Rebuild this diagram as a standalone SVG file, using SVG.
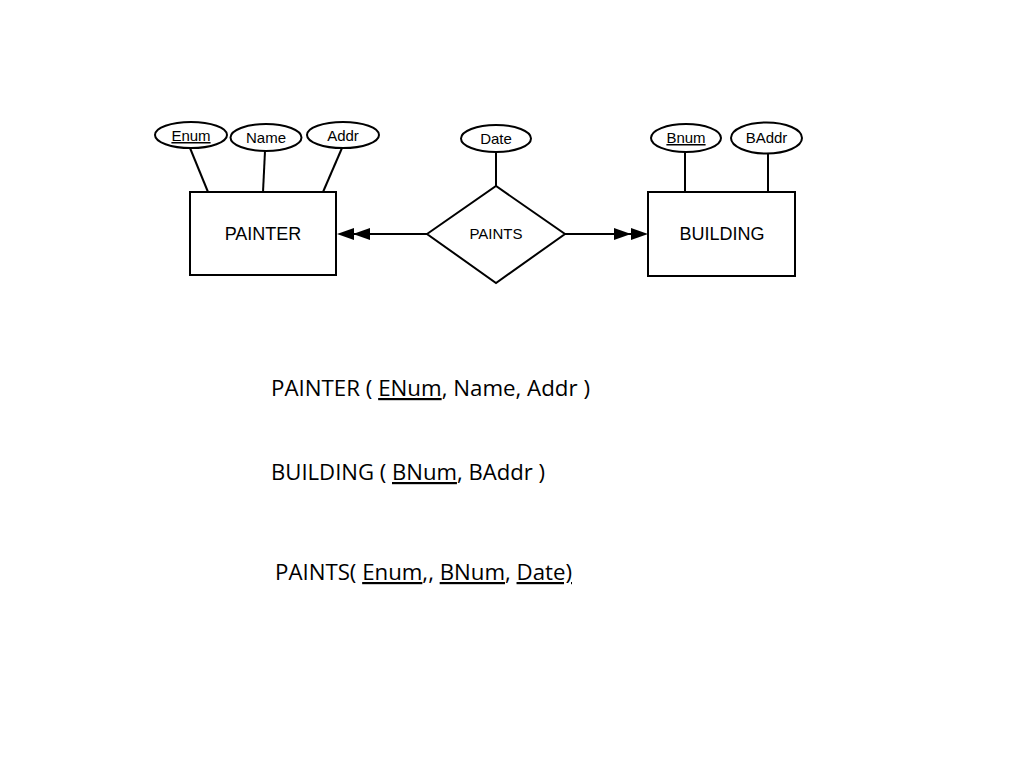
<svg xmlns="http://www.w3.org/2000/svg" xmlns:xlink="http://www.w3.org/1999/xlink" width="1024" height="768" viewBox="0 0 1024 768">
<style>
.shape{fill:#fff;stroke:#000;stroke-width:2}
.conn{fill:none;stroke:#000;stroke-width:2}
.lbl{font-family:"Liberation Sans",Arial,sans-serif;fill:#000;text-anchor:middle}
.attr{font-size:15px}
.ent{font-size:18px}
.rel{font-size:15px}
.u{text-decoration:underline}
.schema{font-family:"Open Sans","Noto Sans",sans-serif;font-size:22px;fill:#000}
</style>
<defs>
<path id="ah" d="M0,0 L17,-6 L17,6 Z" fill="#000"/>
</defs>
<rect width="1024" height="768" fill="#fff"/>
<g id="connectors">
<line class="conn" x1="190" y1="148" x2="208" y2="192"/>
<line class="conn" x1="265" y1="151" x2="263" y2="192"/>
<line class="conn" x1="342" y1="148" x2="323" y2="192"/>
<line class="conn" x1="496" y1="152" x2="496" y2="186"/>
<line class="conn" x1="685" y1="152" x2="685" y2="192"/>
<line class="conn" x1="768" y1="154" x2="768" y2="192"/>
<line class="conn" x1="427" y1="234" x2="345" y2="234"/>
<use xlink:href="#ah" transform="translate(337,234)"/>
<use xlink:href="#ah" transform="translate(353,234)"/>
<line class="conn" x1="565" y1="234" x2="640" y2="234"/>
<use xlink:href="#ah" transform="translate(648,234) rotate(180)"/>
<use xlink:href="#ah" transform="translate(631,234) rotate(180)"/>
</g>
<g id="attr-enum">
<ellipse class="shape" cx="191" cy="135" rx="36" ry="13"/>
<text class="lbl attr u" x="191" y="141">Enum</text>
</g>
<g id="attr-name">
<ellipse class="shape" cx="266" cy="137.5" rx="35.5" ry="13.5"/>
<text class="lbl attr" x="266" y="143">Name</text>
</g>
<g id="attr-addr">
<ellipse class="shape" cx="343" cy="135" rx="36" ry="13"/>
<text class="lbl attr" x="343" y="141">Addr</text>
</g>
<g id="attr-date">
<ellipse class="shape" cx="496" cy="138.5" rx="35" ry="13.5"/>
<text class="lbl attr" x="496" y="144">Date</text>
</g>
<g id="attr-bnum">
<ellipse class="shape" cx="686" cy="138" rx="35" ry="14"/>
<text class="lbl attr u" x="686" y="143">Bnum</text>
</g>
<g id="attr-baddr">
<ellipse class="shape" cx="766.5" cy="138" rx="35.5" ry="15.5"/>
<text class="lbl attr" x="766.5" y="143">BAddr</text>
</g>
<g id="painter">
<rect class="shape" x="190" y="192" width="146" height="83"/>
<text class="lbl ent" x="263" y="240">PAINTER</text>
</g>
<g id="paints">
<polygon class="shape" points="427,234 496,186 565,234 496,283"/>
<text class="lbl rel" x="496" y="239">PAINTS</text>
</g>
<g id="building">
<rect class="shape" x="648" y="192" width="147" height="84"/>
<text class="lbl ent" x="722" y="240">BUILDING</text>
</g>
<g id="schemas">
<text class="schema" x="271" y="396" textLength="319" lengthAdjust="spacingAndGlyphs">PAINTER ( <tspan class="u">ENum</tspan>, Name, Addr )</text>
<text class="schema" x="271" y="480" textLength="274" lengthAdjust="spacingAndGlyphs">BUILDING ( <tspan class="u">BNum</tspan>, BAddr )</text>
<text class="schema" x="275" y="580" textLength="297" lengthAdjust="spacingAndGlyphs">PAINTS( <tspan class="u">Enum</tspan>,, <tspan class="u">BNum</tspan>, <tspan class="u">Date)</tspan></text>
</g>
</svg>
